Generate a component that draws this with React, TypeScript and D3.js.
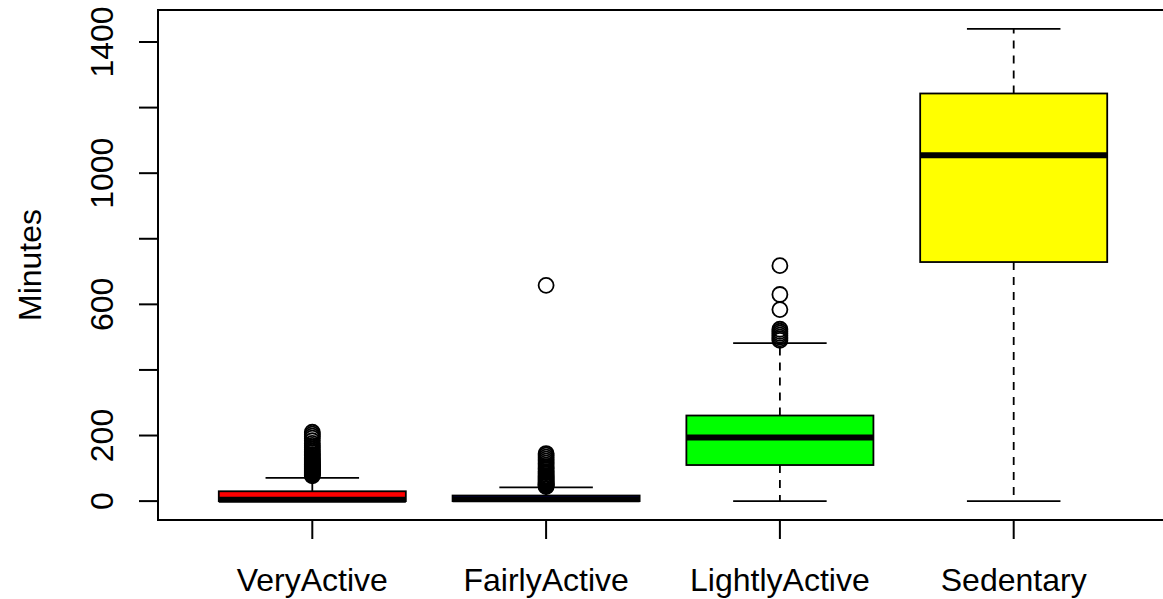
import React from "react";
import * as d3 from "d3";

// Daily activity minutes, summarised per activity level
const categories = ["VeryActive", "FairlyActive", "LightlyActive", "Sedentary"];
const fills = ["#FF0000", "#0000FF", "#00FF00", "#FFFF00"];
const lowerWhisker = [0, 0, 0, 0];
const q1 = [0, 0, 110, 729];
const median = [4, 6, 194, 1055];
const q3 = [30, 17, 261, 1243];
const upperWhisker = [71, 42, 482, 1440];
const outliersVeryActive = [
  77, 80, 82, 84, 86, 88, 90, 92, 94, 96, 98, 100, 102, 104, 106, 108, 110, 112, 115, 118,
  121, 124, 127, 130, 134, 138, 142, 147, 152, 158, 164, 170, 176, 184, 192, 198, 204, 210,
];
const outliersFairlyActive = [
  44, 46, 48, 50, 52, 54, 57, 60, 63, 66, 69, 72, 75, 78, 82, 86, 90, 95, 100, 105, 110,
  116, 122, 128, 134, 140, 145, 658,
];
const outliersLightlyActive = [490, 495, 500, 506, 512, 518, 524, 584, 630, 718];
const outliersSedentary: number[] = [];
const outliers = [outliersVeryActive, outliersFairlyActive, outliersLightlyActive, outliersSedentary];
const yTicks = [0, 200, 400, 600, 800, 1000, 1200, 1400];
const yTickLabels = ["0", "200", "", "600", "", "1000", "", "1400"];
const yTitle = "Minutes";

const W = 1163;
const H = 599;
const plot = { left: 158, right: 1168, top: 10, bottom: 520 };
const FONT = "'Liberation Sans', Arial, Helvetica, sans-serif";
const FS = 32;

export default function App() {
  const dataMax = 1440;
  const dataMin = 0;
  const pad = (dataMax - dataMin) * 0.04;
  const y = d3.scaleLinear().domain([dataMin - pad, dataMax + pad]).range([plot.bottom, plot.top]);
  const n = categories.length;
  const xPad = n * 0.04;
  const x = d3.scaleLinear().domain([0.5 - xPad, n + 0.5 + xPad]).range([plot.left, plot.right]);
  const unit = x(2) - x(1);
  const boxW = unit * 0.8;
  const capW = boxW * 0.5;

  return (
    <svg
      width={W}
      height={H}
      style={{ position: "absolute", left: 0, top: 0, background: "#fff" }}
      fontFamily={FONT}
    >
      {categories.map((c, i) => {
        const cx = x(i + 1);
        return (
          <g key={c}>
            {/* whiskers */}
            <line x1={cx} x2={cx} y1={y(q3[i])} y2={y(upperWhisker[i])} stroke="#000" strokeWidth={1.8} strokeDasharray="8 7" />
            <line x1={cx} x2={cx} y1={y(q1[i])} y2={y(lowerWhisker[i])} stroke="#000" strokeWidth={1.8} strokeDasharray="8 7" />
            <line x1={cx - capW / 2} x2={cx + capW / 2} y1={y(upperWhisker[i])} y2={y(upperWhisker[i])} stroke="#000" strokeWidth={1.8} />
            <line x1={cx - capW / 2} x2={cx + capW / 2} y1={y(lowerWhisker[i])} y2={y(lowerWhisker[i])} stroke="#000" strokeWidth={1.8} />
            {/* box */}
            <rect
              x={cx - boxW / 2}
              y={y(q3[i])}
              width={boxW}
              height={y(q1[i]) - y(q3[i])}
              fill={fills[i]}
              stroke="#000"
              strokeWidth={1.8}
            />
            <line x1={cx - boxW / 2} x2={cx + boxW / 2} y1={y(median[i])} y2={y(median[i])} stroke="#000" strokeWidth={6} />
            {outliers[i].map((v, j) => (
              <circle key={j} cx={cx} cy={y(v)} r={7.5} fill="none" stroke="#000" strokeWidth={1.8} />
            ))}
          </g>
        );
      })}

      {/* frame */}
      <rect x={plot.left} y={plot.top} width={plot.right - plot.left} height={plot.bottom - plot.top} fill="none" stroke="#000" strokeWidth={2} />

      {/* y axis */}
      {yTicks.map((t, i) => (
        <g key={t}>
          <line x1={plot.left} x2={plot.left - 19} y1={y(t)} y2={y(t)} stroke="#000" strokeWidth={2} />
          {yTickLabels[i] && (
            <text
              transform={`translate(${113},${y(t)}) rotate(-90)`}
              textAnchor="middle"
              fontSize={FS}
              fill="#000"
            >
              {yTickLabels[i]}
            </text>
          )}
        </g>
      ))}

      {/* x axis */}
      {categories.map((c, i) => (
        <g key={c}>
          <line x1={x(i + 1)} x2={x(i + 1)} y1={plot.bottom} y2={plot.bottom + 19} stroke="#000" strokeWidth={2} />
          <text x={x(i + 1)} y={591} textAnchor="middle" fontSize={FS} fill="#000">
            {c}
          </text>
        </g>
      ))}

      <text transform={`translate(${41},${(plot.top + plot.bottom) / 2}) rotate(-90)`} textAnchor="middle" fontSize={FS} fill="#000">
        {yTitle}
      </text>
    </svg>
  );
}
